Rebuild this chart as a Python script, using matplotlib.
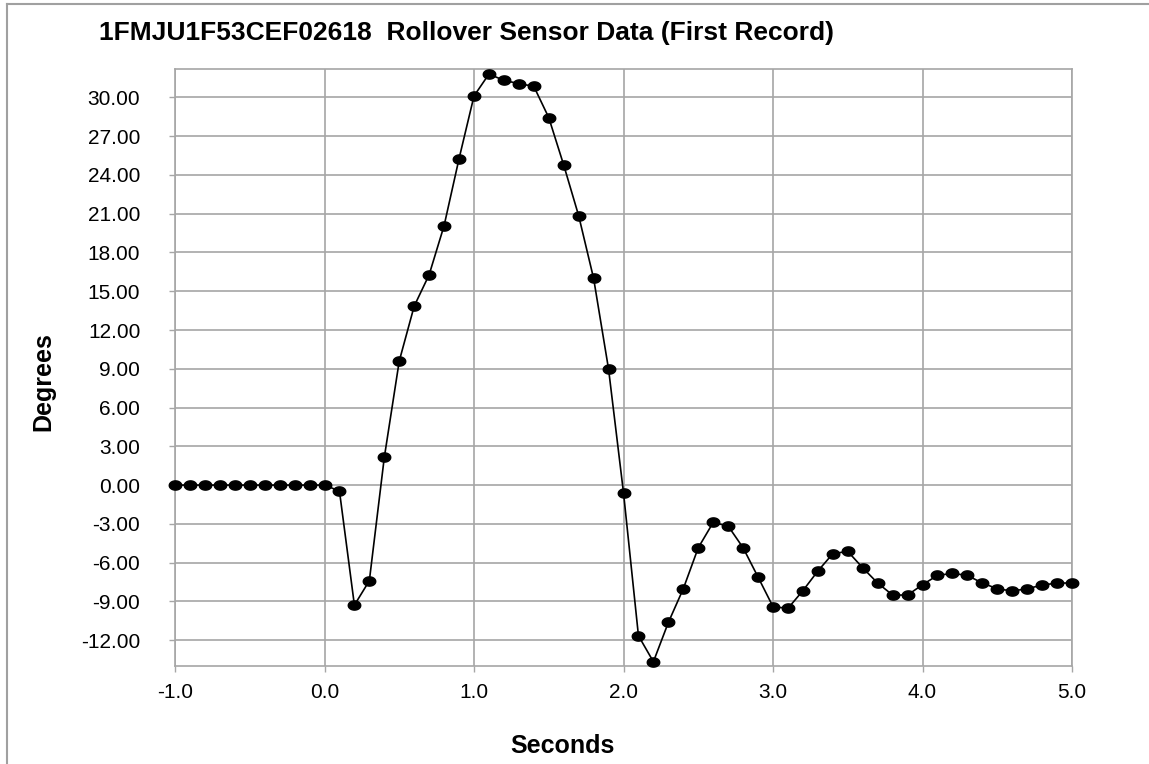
import numpy as np
import matplotlib
matplotlib.use("Agg")
import matplotlib.pyplot as plt
from matplotlib.path import Path
from matplotlib.lines import Line2D

plt.rcParams.update({
    "font.family": ["Liberation Sans", "DejaVu Sans"],
})

# sample times (s) and roll angle (deg), 0.1 s apart
seconds = [-1.0, -0.9, -0.8, -0.7, -0.6, -0.5, -0.4, -0.3, -0.2, -0.1,
           0.0, 0.1, 0.2, 0.3, 0.4, 0.5, 0.6, 0.7, 0.8, 0.9,
           1.0, 1.1, 1.2, 1.3, 1.4, 1.5, 1.6, 1.7, 1.8, 1.9,
           2.0, 2.1, 2.2, 2.3, 2.4, 2.5, 2.6, 2.7, 2.8, 2.9,
           3.0, 3.1, 3.2, 3.3, 3.4, 3.5, 3.6, 3.7, 3.8, 3.9,
           4.0, 4.1, 4.2, 4.3, 4.4, 4.5, 4.6, 4.7, 4.8, 4.9, 5.0]
degrees = [0.0, 0.0, 0.0, 0.0, 0.0, 0.0, 0.0, 0.0, 0.0, 0.0,
           0.0, -0.46, -9.29, -7.40, 2.14, 9.6, 13.85, 16.28, 20.08, 25.26,
           30.11, 31.81, 31.32, 31.07, 30.86, 28.44, 24.77, 20.85, 16.0, 8.98,
           -0.59, -11.66, -13.67, -10.63, -8.02, -4.85, -2.89, -3.17, -4.85, -7.12,
           -9.41, -9.54, -8.17, -6.65, -5.31, -5.13, -6.40, -7.58, -8.51, -8.51,
           -7.71, -6.99, -6.83, -6.99, -7.58, -8.02, -8.20, -8.02, -7.74, -7.58, -7.58]

x_ticks = np.arange(-1.0, 5.01, 1.0)
y_ticks = np.arange(-12.0, 30.01, 3.0)

TITLE = "1FMJU1F53CEF02618  Rollover Sensor Data (First Record)"
GRID = "#a6a6a6"
W, H = 1149, 764

# Excel-style flattened dot
t = np.linspace(0, 2 * np.pi, 40)
ellipse = Path(np.column_stack([1.35 * np.cos(t), np.sin(t)]), closed=True)

fig = plt.figure(figsize=(W / 100, H / 100), dpi=100)
ax = fig.add_axes([175 / W, 1 - 666 / H, (1072 - 175) / W, (666 - 69) / H])

ax.plot(seconds, degrees, color="black", lw=1.2, marker=ellipse, ms=9,
        mfc="black", mec="black", zorder=3, clip_on=False)

ax.set_xlim(-1.0, 5.0)
ax.set_ylim(-14.0, 32.2)
ax.set_xticks(x_ticks)
ax.set_yticks(y_ticks)
ax.set_xticklabels([f"{v:.1f}" for v in x_ticks])
ax.set_yticklabels([f"{v:.2f}" for v in y_ticks])
ax.grid(True, color=GRID, lw=1.2)
ax.set_axisbelow(True)
for s in ax.spines.values():
    s.set_color(GRID)
    s.set_linewidth(1.2)
ax.tick_params(axis="both", colors=GRID, labelcolor="black", labelsize=15,
               length=4, width=1.0)
ax.tick_params(axis="y", pad=21)
ax.tick_params(axis="x", pad=8)

fig.text(99 / W, 1 - 33 / H, TITLE, ha="left", va="center",
         fontsize=19, fontweight="bold")
fig.text(562 / W, 1 - 746 / H, "Seconds", ha="center", va="center",
         fontsize=18, fontweight="bold")
fig.text(43 / W, 1 - 382 / H, "Degrees", ha="center", va="center",
         rotation=90, fontsize=18, fontweight="bold")

# chart-area border (left and top edges visible)
fig.add_artist(Line2D([7 / W, 7 / W], [0, 1 - 4 / H], transform=fig.transFigure,
                      color="#a0a0a0", lw=1.5))
fig.add_artist(Line2D([7 / W, 1], [1 - 4 / H, 1 - 4 / H], transform=fig.transFigure,
                      color="#a0a0a0", lw=1.5))

fig.savefig("out.png", dpi=100)
